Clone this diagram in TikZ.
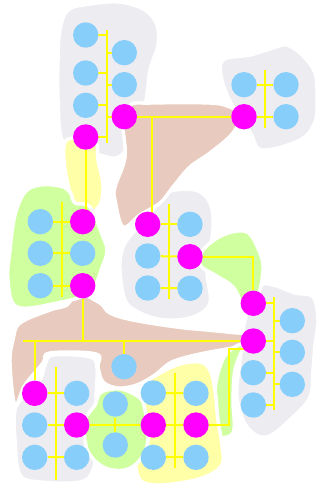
\documentclass[tikz,border=0pt]{standalone}
\pgfdeclarelayer{bg}
\pgfdeclarelayer{wires}
\pgfsetlayers{bg,wires,main}
\begin{document}
\begin{tikzpicture}[x=1pt,y=-1pt,
  blob/.style={draw=white,line width=3.5pt,line join=round},
  bl/.style={circle,fill=skyb,minimum size=25.4pt,inner sep=0pt},
  mg/.style={circle,fill=mag,minimum size=25.4pt,inner sep=0pt},
  wire/.style={draw=yel,line width=2pt}]
\definecolor{skyb}{HTML}{87CEFA}
\definecolor{mag}{HTML}{FF00FF}
\definecolor{grayb}{HTML}{EDECF1}
\definecolor{tanb}{HTML}{E8CBBE}
\definecolor{greenb}{HTML}{D0FFA0}
\definecolor{yelb}{HTML}{FFFFA8}
\definecolor{yel}{HTML}{FFFF00}
\useasboundingbox (0,0) rectangle (320,493);
% blobs
\begin{pgfonlayer}{bg}
\path[blob,fill=grayb] plot[smooth cycle,tension=0.6] coordinates{(60,30) (68,10) (90,4) (120,2) (145,10) (157,25) (158,45) (150,70) (146,100) (138,122) (126,150) (115,158) (100,155) (80,148) (62,140) (58,100) (58,60)};
\path[blob,fill=grayb] plot[smooth cycle,tension=0.6] coordinates{(223,60) (250,55) (273,48) (287,45) (302,55) (315,73) (317,100) (315,122) (300,140) (262,150) (250,132) (232,105) (222,80)};
\path[blob,fill=grayb] plot[smooth cycle,tension=0.6] coordinates{(130,236) (150,214) (165,193) (195,190) (210,203) (213,228) (207,270) (210,303) (193,317) (165,320) (140,313) (125,300) (120,270) (122,250)};
\path[blob,fill=grayb] plot[smooth cycle,tension=0.6] coordinates{(260,287) (273,285) (295,293) (313,297) (318,320) (315,345) (313,370) (310,397) (293,417) (267,437) (247,427) (237,397) (240,360) (245,320)};
\path[blob,fill=grayb] plot[smooth cycle,tension=0.6] coordinates{(45,365) (53,355) (90,357) (97,368) (96,400) (97,440) (93,470) (80,482) (40,482) (20,475) (15,440) (15,410) (25,395) (40,380)};
\path[blob,fill=tanb] plot[smooth cycle,tension=0.6] coordinates{(130,105) (150,103) (210,103) (230,107) (240,115) (233,133) (210,153) (190,167) (173,187) (160,203) (140,215) (123,227) (115,200) (115,187) (125,157) (123,123)};
\path[blob,fill=tanb] plot[smooth cycle,tension=0.6] coordinates{(77,293) (100,303) (110,313) (133,320) (177,327) (207,330) (227,332) (247,335) (245,346) (233,348) (200,354) (172,362) (155,375) (137,385) (118,388) (103,382) (98,367) (96,354) (50,353) (43,363) (25,385) (15,405) (10,363) (13,340) (20,323) (50,310) (67,305)};
\path[blob,fill=yelb] plot[smooth cycle,tension=0.6] coordinates{(65,142) (75,138) (95,140) (98,160) (103,185) (100,205) (88,213) (75,205) (68,185) (64,160)};
\path[blob,fill=greenb] plot[smooth cycle,tension=0.6] coordinates{(25,192) (40,185) (60,186) (70,192) (75,203) (90,207) (103,237) (107,250) (103,265) (90,292) (57,303) (17,307) (8,280) (10,250) (15,215)};
\path[blob,fill=greenb] plot[smooth cycle,tension=0.6] coordinates{(203,250) (223,235) (247,232) (260,253) (263,270) (258,295) (245,307) (233,287) (215,275) (200,265)};
\path[blob,fill=greenb] plot[smooth cycle,tension=0.6] coordinates{(243,345) (227,353) (218,373) (213,403) (208,437) (213,438) (233,433) (233,400) (235,370)};
\path[blob,fill=yelb] plot[smooth cycle,tension=0.6] coordinates{(142,386) (160,373) (180,364) (200,362) (210,370) (215,390) (218,420) (222,445) (222,465) (205,477) (180,483) (155,485) (140,480) (135,460) (135,430) (138,402)};
\path[blob,fill=greenb] plot[smooth cycle,tension=0.6] coordinates{(100,393) (113,389) (125,390) (140,398) (145,410) (148,440) (140,460) (125,470) (105,468) (90,455) (85,440) (85,420) (95,405)};
\end{pgfonlayer}
% nodes
\node[bl] (b1) at (85.7,35) {};
\node[bl] (b2) at (124.3,52.7) {};
\node[bl] (b3) at (85.7,73) {};
\node[bl] (b4) at (124.3,84.7) {};
\node[bl] (b5) at (85.7,105.3) {};
\node[mg] (m1) at (124.3,116.7) {};
\node[mg] (m2) at (85.7,137) {};
\node[mg] (m3) at (244,116.7) {};
\node[bl] (b6) at (244,84.7) {};
\node[bl] (b7) at (286,84.7) {};
\node[bl] (b8) at (286,116.7) {};
\node[bl] (b9) at (40.3,221.7) {};
\node[mg] (m5) at (82.7,221.7) {};
\node[bl] (b10) at (40.3,253.3) {};
\node[bl] (b11) at (82.7,253.3) {};
\node[bl] (b12) at (40.3,285.7) {};
\node[mg] (m6) at (82.7,285.7) {};
\node[mg] (m4) at (147.7,224.3) {};
\node[bl] (b13) at (190,224.3) {};
\node[bl] (b14) at (147.7,256) {};
\node[mg] (m7) at (190,256.7) {};
\node[bl] (b15) at (147.7,288) {};
\node[bl] (b16) at (190,288.3) {};
\node[mg] (m8) at (253.3,303.3) {};
\node[bl] (b17) at (292.3,320.7) {};
\node[mg] (m9) at (253.3,341) {};
\node[bl] (b18) at (292.3,352.3) {};
\node[bl] (b19) at (253.3,372.7) {};
\node[bl] (b20) at (292.3,384.3) {};
\node[bl] (b21) at (253.3,405) {};
\node[bl] (b22) at (124,366.7) {};
\node[mg] (m10) at (34.7,393.3) {};
\node[bl] (b23) at (76.7,393.3) {};
\node[bl] (b24) at (34.7,425) {};
\node[mg] (m11) at (76.7,425) {};
\node[bl] (b25) at (34.7,457.3) {};
\node[bl] (b26) at (76.7,457.3) {};
\node[bl] (b27) at (115.3,404) {};
\node[bl] (b28) at (115.3,445) {};
\node[bl] (b29) at (153.3,393) {};
\node[bl] (b30) at (196,393.3) {};
\node[mg] (m12) at (153.3,425) {};
\node[mg] (m13) at (196,425) {};
\node[bl] (b31) at (153.3,457.3) {};
\node[bl] (b32) at (196,457.3) {};
% coordinates
\coordinate (aT) at (106.7,30); \coordinate (aB) at (106.7,142.7);
\coordinate (bT) at (265.3,70); \coordinate (bB) at (265.3,128);
\coordinate (cT) at (61.7,201.7); \coordinate (cB) at (61.7,296.7);
\coordinate (dT) at (169,204.3); \coordinate (dB) at (169,299.3);
\coordinate (eT) at (274.3,297.3); \coordinate (eB) at (274.3,410);
\coordinate (fT) at (55.7,367.3); \coordinate (fB) at (55.7,480);
\coordinate (gT) at (175,372.7); \coordinate (gB) at (175,468.3);
\coordinate (hT) at (115.3,418); \coordinate (hB) at (115.3,431.7);
\coordinate (j1) at (151.7,116.7);
\coordinate (hl) at (22.7,341);
\coordinate (k1) at (229.3,349.3); \coordinate (k2) at (247,349.3);
\begin{pgfonlayer}{wires}
% buses
\draw[wire] (aT) -- (aB);
\draw[wire] (bT) -- (bB);
\draw[wire] (cT) -- (cB);
\draw[wire] (dT) -- (dB);
\draw[wire] (eT) -- (eB);
\draw[wire] (fT) -- (fB);
\draw[wire] (gT) -- (gB);
\draw[wire] (hT) -- (hB);
% ticks top-left
\foreach \n in {b1,b2,b3,b4,b5,m1,m2} \draw[wire] (\n.center) -- (\n.center -| aT);
% top-right
\draw[wire] (b6) -- (b7);
\draw[wire] (m3) -- (b8);
% left green
\draw[wire] (b9) -- (m5);
\draw[wire] (b10) -- (b11);
\draw[wire] (b12) -- (m6);
% middle
\draw[wire] (m4) -- (b13);
\draw[wire] (b14) -- (m7);
\draw[wire] (b15) -- (b16);
% right
\foreach \n in {m8,b17,m9,b18,b19,b20,b21} \draw[wire] (\n.center) -- (\n.center -| eT);
% bottom-left
\draw[wire] (m10) -- (b23);
\draw[wire] (b24) -- (m11);
\draw[wire] (b25) -- (b26);
% bottom yellow
\draw[wire] (b29) -- (b30);
\draw[wire] (m12) -- (m13);
\draw[wire] (b31) -- (b32);
% connections
\draw[wire] (m1) -- (m3);
\draw[wire] (j1) -- (j1 |- m4);
\draw[wire] (m2) -- (m2 |- m5);
\draw[wire] (m7) -| (m8);
\draw[wire] (m9) -- (hl);
\draw[wire] (m6) -- (m6 |- hl);
\draw[wire] (m10) -- (m10 |- hl);
\draw[wire] (b22) -- (b22 |- hl);
\draw[wire] (m11) -- (m12);
\draw[wire] (m13) -| (k1) -- (k2);
\end{pgfonlayer}
\end{tikzpicture}
\end{document}
